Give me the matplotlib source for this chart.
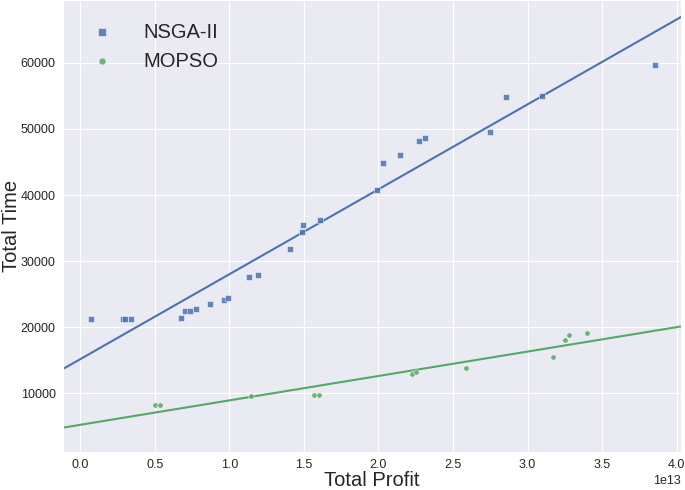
import matplotlib
matplotlib.use('Agg')
import matplotlib.pyplot as plt
import numpy as np
import seaborn as sns

sns.set_style('darkgrid')
plt.rcParams['font.family'] = ['Liberation Sans', 'DejaVu Sans']

# NSGA-II results (profit, time)
nsga_profit = [0.072e13, 0.286e13, 0.302e13, 0.336e13, 0.676e13, 0.703e13, 0.736e13,
               0.775e13, 0.872e13, 0.962e13, 0.991e13, 1.13e13, 1.194e13, 1.403e13,
               1.486e13, 1.495e13, 1.608e13, 1.993e13, 2.03e13, 2.146e13, 2.272e13,
               2.313e13, 2.75e13, 2.853e13, 3.10e13, 3.858e13]
nsga_time = [21220, 21220, 21260, 21300, 21430, 22490, 22490,
             22790, 23440, 24050, 24400, 27630, 27870, 31900,
             34370, 35530, 36240, 40820, 44850, 46000, 48220,
             48570, 49530, 54860, 54910, 59700]

# MOPSO results (profit, time)
mopso_profit = [0.498e13, 0.534e13, 1.142e13, 1.570e13, 1.604e13, 2.225e13, 2.254e13,
                2.588e13, 3.169e13, 3.25e13, 3.277e13, 3.40e13]
mopso_time = [8230, 8290, 9550, 9750, 9800, 12870, 13220,
              13880, 15540, 18050, 18760, 19110]

blue = '#4C72B0'
green = '#55A868'

fig = plt.figure(figsize=(6.85, 4.9), dpi=100)
ax = fig.add_axes([0.0924, 0.0782, 0.9018, 0.9218])

xlim = (-0.115e13, 4.03e13)
ylim = (1170, 69500)

ax.scatter(nsga_profit, nsga_time, marker='s', s=20, color=blue, alpha=0.85,
           edgecolors='white', linewidths=0.4, label='NSGA-II', zorder=3)
ax.scatter(mopso_profit, mopso_time, marker='o', s=15, color=green, alpha=0.85,
           edgecolors='white', linewidths=0.4, label='MOPSO', zorder=3)

# linear fits across full x range
xs = np.array(xlim)
for px, ty, c in [(nsga_profit, nsga_time, blue), (mopso_profit, mopso_time, green)]:
    k, b = np.polyfit(px, ty, 1)
    ax.plot(xs, k * xs + b, color=c, linewidth=1.5, zorder=2)

ax.set_xlim(xlim)
ax.set_ylim(ylim)
ax.set_yticks([10000, 20000, 30000, 40000, 50000, 60000])
ax.tick_params(labelsize=9, pad=2)
ax.xaxis.get_offset_text().set_fontsize(9)

ax.set_xlabel('Total Profit', fontsize=14.5, labelpad=0)
ax.set_ylabel('Total Time', fontsize=14.5, labelpad=0)

ax.legend(loc='upper left', bbox_to_anchor=(0, 0.99), fontsize=14.5, frameon=False,
          handletextpad=1.1, markerscale=1.3)

fig.savefig('out.png', dpi=100)
